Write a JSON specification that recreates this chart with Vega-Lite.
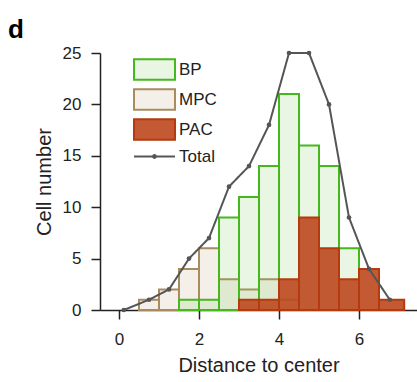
{
  "$schema": "https://vega.github.io/schema/vega-lite/v6.json",
  "width": 317,
  "height": 257,
  "autosize": {"type": "none"},
  "padding": {"left": 100, "top": 53, "right": 0, "bottom": 72},
  "background": "white",
  "title": {"text": "d", "anchor": "start", "frame": "group", "dx": -92, "dy": 30, "fontSize": 26, "fontWeight": "bold", "font": "Liberation Sans", "color": "#000", "baseline": "alphabetic", "offset": 10},
  "datasets": {
    "bars": [
      {"type": "MPC", "x": 0.5, "x2": 1.0, "n": 1},
      {"type": "MPC", "x": 1.0, "x2": 1.5, "n": 2},
      {"type": "MPC", "x": 1.5, "x2": 2.0, "n": 4},
      {"type": "MPC", "x": 2.0, "x2": 2.5, "n": 6},
      {"type": "MPC", "x": 2.5, "x2": 3.0, "n": 3},
      {"type": "MPC", "x": 3.0, "x2": 3.5, "n": 2},
      {"type": "MPC", "x": 3.5, "x2": 4.0, "n": 3},
      {"type": "MPC", "x": 4.0, "x2": 4.5, "n": 1},
      {"type": "BP", "x": 1.5, "x2": 2.0, "n": 1},
      {"type": "BP", "x": 2.0, "x2": 2.5, "n": 1},
      {"type": "BP", "x": 2.5, "x2": 3.0, "n": 9},
      {"type": "BP", "x": 3.0, "x2": 3.5, "n": 11},
      {"type": "BP", "x": 3.5, "x2": 4.0, "n": 14},
      {"type": "BP", "x": 4.0, "x2": 4.5, "n": 21},
      {"type": "BP", "x": 4.5, "x2": 5.0, "n": 16},
      {"type": "BP", "x": 5.0, "x2": 5.5, "n": 14},
      {"type": "BP", "x": 5.5, "x2": 6.0, "n": 6},
      {"type": "PAC", "x": 3.0, "x2": 3.5, "n": 1},
      {"type": "PAC", "x": 3.5, "x2": 4.0, "n": 1},
      {"type": "PAC", "x": 4.0, "x2": 4.5, "n": 3},
      {"type": "PAC", "x": 4.5, "x2": 5.0, "n": 9},
      {"type": "PAC", "x": 5.0, "x2": 5.5, "n": 6},
      {"type": "PAC", "x": 5.5, "x2": 6.0, "n": 3},
      {"type": "PAC", "x": 6.0, "x2": 6.5, "n": 4},
      {"type": "PAC", "x": 6.5, "x2": 7.13, "n": 1}
    ],
    "total": [
      {"series": "Total", "x": 0.12, "total": 0},
      {"series": "Total", "x": 0.75, "total": 1},
      {"series": "Total", "x": 1.25, "total": 2},
      {"series": "Total", "x": 1.75, "total": 5},
      {"series": "Total", "x": 2.25, "total": 7},
      {"series": "Total", "x": 2.75, "total": 12},
      {"series": "Total", "x": 3.25, "total": 14},
      {"series": "Total", "x": 3.75, "total": 18},
      {"series": "Total", "x": 4.25, "total": 25},
      {"series": "Total", "x": 4.75, "total": 25},
      {"series": "Total", "x": 5.25, "total": 20},
      {"series": "Total", "x": 5.75, "total": 9},
      {"series": "Total", "x": 6.25, "total": 4},
      {"series": "Total", "x": 6.77, "total": 1}
    ]
  },
  "layer": [
    {
      "data": {"name": "bars"},
      "mark": {"type": "rect", "strokeWidth": 2},
      "encoding": {
        "x": {"field": "x", "type": "quantitative", "scale": {"domain": [-0.475, 7.45], "nice": false, "zero": false},
              "axis": {"title": "Distance to center", "values": [0, 2, 4, 6], "format": "d", "labelPadding": 12}},
        "x2": {"field": "x2"},
        "y": {"field": "n", "type": "quantitative", "scale": {"domain": [0, 25], "nice": false},
              "axis": {"title": "Cell number", "values": [0, 5, 10, 15, 20, 25], "labelPadding": 10}},
        "y2": {"datum": 0},
        "fill": {"field": "type", "type": "nominal",
                 "scale": {"domain": ["BP", "MPC", "PAC"], "range": ["rgba(120,200,90,0.17)", "rgba(190,165,125,0.17)", "rgba(188,72,30,0.9)"]},
                 "legend": {"orient": "none", "legendX": 43, "legendY": 5, "title": null, "symbolType": "M-2,-1H2V1H-2Z", "symbolSize": 420, "symbolStrokeWidth": 2, "rowPadding": 1, "labelFontSize": 17, "labelFont": "Liberation Sans", "labelOffset": 13, "labelColor": "#222"}},
        "stroke": {"field": "type", "type": "nominal",
                 "scale": {"domain": ["BP", "MPC", "PAC"], "range": ["#44b81c", "#a88b5f", "#b53a0e"]},
                 "legend": {"orient": "none", "legendX": 43, "legendY": 5, "title": null, "symbolType": "M-2,-1H2V1H-2Z", "symbolSize": 420, "symbolStrokeWidth": 2, "rowPadding": 1, "labelFontSize": 17, "labelFont": "Liberation Sans", "labelOffset": 13, "labelColor": "#222"}}
      }
    },
    {
      "data": {"name": "total"},
      "mark": {"type": "line", "color": "#555", "strokeWidth": 2},
      "encoding": {
        "x": {"field": "x", "type": "quantitative"},
        "y": {"field": "total", "type": "quantitative"},
        "strokeDash": {"field": "series", "type": "nominal", "scale": {"domain": ["Total"], "range": [[1, 0]]},
                       "legend": {"orient": "none", "legendX": 43, "legendY": 92, "title": null, "symbolType": "M-2,0H2M-0.14,0A0.14,0.14,0,1,1,0.14,0A0.14,0.14,0,1,1,-0.14,0Z", "symbolSize": 420, "symbolStrokeWidth": 2, "symbolStrokeColor": "#555", "labelFontSize": 17, "labelFont": "Liberation Sans", "labelOffset": 13, "labelColor": "#222"}}
      }
    },
    {
      "data": {"name": "total"},
      "mark": {"type": "point", "filled": true, "size": 22, "color": "#555", "opacity": 1},
      "encoding": {
        "x": {"field": "x", "type": "quantitative"},
        "y": {"field": "total", "type": "quantitative"}
      }
    }
  ],
  "config": {
    "view": {"stroke": null},
    "axis": {
      "grid": false,
      "domainColor": "#222", "domainWidth": 1.5,
      "tickColor": "#222", "tickWidth": 1.5, "tickSize": 9,
      "labelColor": "#222", "labelFont": "Liberation Sans", "labelFontSize": 17, "labelPadding": 7,
      "titleColor": "#222", "titleFont": "Liberation Sans", "titleFontSize": 20, "titleFontWeight": "normal", "titlePadding": 8
    }
  }
}
